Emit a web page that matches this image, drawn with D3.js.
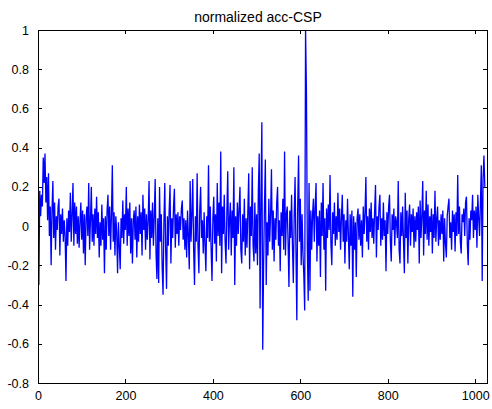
<!DOCTYPE html>
<html>
<head>
<meta charset="utf-8">
<script src="https://cdn.jsdelivr.net/npm/d3@7/dist/d3.min.js"></script>
<style>
  body { margin: 0; background: #fff; }
  text { font-family: "Liberation Sans", Arial, sans-serif; fill: #000; }
</style>
</head>
<body>
<script>
// dati (un campione ogni 2 indici, 0..1022)
var sampleStep = 2;
var acc = [
   0.15,-0.30, 0.18, 0.05, 0.16, 0.10, 0.35, 0.22, 0.37, 0.12, 0.25, 0.03, 0.27,-0.05, 0.10,-0.20,
   0.08, 0.23,-0.06, 0.12,-0.12, 0.05,-0.02, 0.10, 0.14,-0.15, 0.06,-0.04, 0.09,-0.08, 0.03,-0.05,
  -0.28, 0.04,-0.10, 0.08,-0.03, 0.17,-0.08, 0.06, 0.22,-0.10, 0.12,-0.04, 0.10,-0.09, 0.05,-0.11,
   0.02, 0.12,-0.07, 0.08,-0.14, 0.06,-0.20, 0.04, 0.10,-0.05, 0.22,-0.12, 0.03, 0.20,-0.08, 0.06,
  -0.10, 0.09,-0.04, 0.15,-0.06, 0.07,-0.16, 0.02,-0.10, 0.11,-0.07, 0.04,-0.24, 0.05,-0.12, 0.08,
   0.16,-0.05, 0.10,-0.12, 0.06, 0.31,-0.08, 0.07,-0.15, 0.05,-0.03,-0.24, 0.02,-0.10,-0.22, 0.04,
  -0.06, 0.13,-0.09, 0.06,-0.02, 0.20,-0.10, 0.09,-0.05, 0.12,-0.14, 0.04,-0.19, 0.03, 0.08,-0.07,
   0.10,-0.16, 0.05,-0.08, 0.11,-0.04, 0.07,-0.15, 0.16,-0.02, 0.09,-0.12, 0.06,-0.07, 0.03, 0.23,
  -0.17, 0.08,-0.06, 0.12,-0.10, 0.05, 0.24,-0.14,-0.27, 0.04,-0.29, 0.20,-0.08, 0.06,-0.21,-0.35,
   0.02, 0.22,-0.12,-0.32, 0.05,-0.10, 0.08, 0.21,-0.19, 0.04,-0.06, 0.10, 0.19,-0.11, 0.06,-0.04,
   0.07,-0.10, 0.05,-0.02, 0.09, 0.13,-0.07, 0.04,-0.12, 0.03,-0.16, 0.08,-0.05,-0.22, 0.23,-0.08,
   0.06, 0.24,-0.12,-0.30, 0.05,-0.08, 0.27,-0.10,-0.24, 0.08, 0.20,-0.06, 0.03,-0.14, 0.07,-0.10,
  -0.23, 0.05,-0.06, 0.31,-0.08, 0.10,-0.12,-0.28, 0.04, 0.15,-0.09, 0.06,-0.18, 0.22,-0.05, 0.12,
  -0.10, 0.38,-0.24, 0.10,-0.04, 0.16,-0.08,-0.19, 0.07, 0.28,-0.12, 0.03, 0.12,-0.15, 0.08,-0.06,
   0.30,-0.30, 0.05,-0.10, 0.12,-0.04, 0.09, 0.20,-0.12,-0.19, 0.06,-0.08, 0.14,-0.15, 0.04,-0.11,
   0.08, 0.27,-0.22, 0.10,-0.05, 0.30,-0.10,-0.18, 0.12,-0.14, 0.06,-0.20, 0.18, 0.37,-0.42, 0.15,
   0.53,-0.63,-0.20, 0.10, 0.34,-0.30, 0.02,-0.15, 0.14,-0.08, 0.06, 0.29,-0.12, 0.08,-0.18, 0.04,
  -0.07, 0.12, 0.20,-0.10, 0.03,-0.23, 0.07,-0.05, 0.14,-0.12, 0.38,-0.15, 0.06, 0.10,-0.08,-0.31,
   0.08,-0.06, 0.16,-0.10,-0.29, 0.05, 0.25,-0.12,-0.48, 0.10, 0.36,-0.08, 0.14,-0.20, 0.06,-0.14,
  -0.25,-0.43, 1.00, 0.69,-0.10,-0.38, 0.22,-0.33, 0.08,-0.12, 0.06, 0.14,-0.08, 0.10, 0.22,-0.18,
   0.05,-0.10, 0.08,-0.26, 0.12,-0.05, 0.22,-0.12, 0.04,-0.33, 0.09,-0.06, 0.11,-0.02, 0.26,-0.09,
  -0.20, 0.07,-0.04, 0.12,-0.10, 0.05,-0.07, 0.17,-0.03, 0.09,-0.12, 0.04, 0.16,-0.08, 0.06,-0.19,
   0.03,-0.08, 0.14,-0.05,-0.22, 0.06,-0.10, 0.08,-0.36, 0.05,-0.12, 0.02,-0.26, 0.04, 0.09,-0.07,
   0.06,-0.10, 0.03,-0.16, 0.10,-0.04, 0.07, 0.25,-0.08, 0.05,-0.12, 0.09,-0.03, 0.12,-0.06, 0.04,
  -0.09, 0.08, 0.21,-0.16, 0.05,-0.02, 0.10, 0.16,-0.10, 0.04,-0.07, 0.12,-0.05, 0.03,-0.23, 0.07,
  -0.04, 0.10, 0.16,-0.08,-0.18, 0.06,-0.02, 0.09,-0.10, 0.05, 0.02,-0.06, 0.23,-0.12,-0.19, 0.07,
  -0.05, 0.10,-0.08,-0.24, 0.17,-0.06, 0.08,-0.19, 0.04, 0.11,-0.10, 0.06,-0.03, 0.09,-0.11, 0.05,
  -0.08, 0.07,-0.02, 0.10,-0.19, 0.13,-0.06, 0.05, 0.23,-0.15, 0.08,-0.04, 0.18,-0.07, 0.11,-0.10,
   0.05,-0.03, 0.09,-0.14, 0.06,-0.06, 0.18,-0.08, 0.04, 0.10,-0.10, 0.03,-0.07, 0.06,-0.04, 0.08,
  -0.18, 0.04,-0.09,-0.16, 0.05, 0.10, 0.14,-0.06, 0.02,-0.12, 0.08,-0.03, 0.06,-0.13, 0.07,-0.05,
   0.26,-0.04, 0.10,-0.08,-0.14, 0.06, 0.02, 0.09,-0.05, 0.12, 0.15,-0.09,-0.20, 0.04,-0.07, 0.08,
   0.03, 0.16,-0.06, 0.08,-0.02, 0.10,-0.11, 0.16, 0.04,-0.05, 0.12, 0.31,-0.28, 0.24, 0.36, 0.20
];
var xTicks = [0, 200, 400, 600, 800, 1000];
var yTicks = [-0.8, -0.6, -0.4, -0.2, 0, 0.2, 0.4, 0.6, 0.8, 1];
var titolo = "normalized acc-CSP";

// dimensioni (niente "top": e' gia' window.top)
var w = 492, h = 409;
var margine = { sx: 38, dx: 487, su: 30, giu: 383 };
var tickLen = 4;

var svg = d3.select("body").append("svg")
    .attr("width", w)
    .attr("height", h);

svg.append("rect").attr("width", w).attr("height", h).attr("fill", "#fff");

var x = d3.scaleLinear().domain([0, 1027]).range([margine.sx, margine.dx]);
var y = d3.scaleLinear().domain([-0.8, 1]).range([margine.giu, margine.su]);

svg.append("defs").append("clipPath").attr("id", "area")
  .append("rect")
    .attr("x", margine.sx).attr("y", margine.su)
    .attr("width", margine.dx - margine.sx).attr("height", margine.giu - margine.su);

// segnale
var line = d3.line()
    .x(function(d, i) { return x(i * sampleStep); })
    .y(function(d) { return y(d); });

svg.append("path")
    .datum(acc)
    .attr("clip-path", "url(#area)")
    .attr("fill", "none")
    .attr("stroke", "#0000ff")
    .attr("stroke-width", 1.3)
    .attr("stroke-linejoin", "miter")
    .attr("stroke-miterlimit", 2)
    .attr("d", line);

// assi stile matlab: tacche interne su tutti i lati
var fmt = function(d) { return String(d); };

svg.append("g")
    .attr("transform", "translate(0," + margine.giu + ")")
    .call(d3.axisBottom(x).tickValues(xTicks).tickSize(-tickLen).tickPadding(tickLen + 4).tickFormat(fmt));
svg.append("g")
    .attr("transform", "translate(0," + margine.su + ")")
    .call(d3.axisTop(x).tickValues(xTicks).tickSize(-tickLen).tickFormat(""));
svg.append("g")
    .attr("transform", "translate(" + margine.sx + ",0)")
    .call(d3.axisLeft(y).tickValues(yTicks).tickSize(-tickLen).tickPadding(tickLen + 5).tickFormat(fmt));
svg.append("g")
    .attr("transform", "translate(" + margine.dx + ",0)")
    .call(d3.axisRight(y).tickValues(yTicks).tickSize(-tickLen).tickFormat(""));

svg.selectAll(".domain").attr("stroke", "#000").attr("shape-rendering", "crispEdges");
svg.selectAll(".tick line").attr("stroke", "#000").attr("shape-rendering", "crispEdges");
svg.selectAll(".tick text")
    .attr("font-size", 12.5)
    .attr("font-family", "Liberation Sans, Arial, sans-serif")
    .attr("fill", "#000");

// titolo
svg.append("text")
    .attr("x", 258)
    .attr("y", 22)
    .attr("text-anchor", "middle")
    .attr("font-size", 14)
    .text(titolo);
</script>
</body>
</html>
